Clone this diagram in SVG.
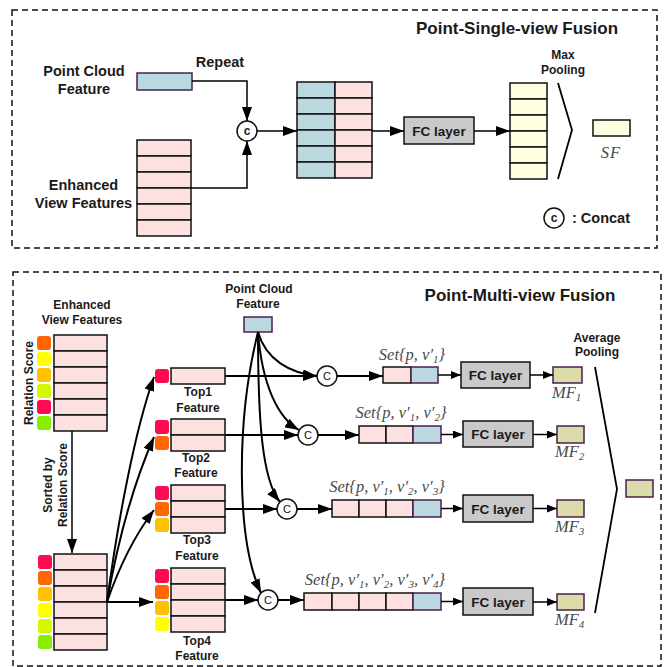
<svg xmlns="http://www.w3.org/2000/svg" width="664" height="667" viewBox="0 0 664 667">
<defs>
<style>
.lbl{font-family:"Liberation Sans",Arial,sans-serif;font-weight:bold;fill:#1a1a1a}
.t14{font-size:14.5px}
.t12{font-size:12px}
.ttl{font-size:17px}
.math{font-family:"Liberation Serif","Times New Roman",serif;font-style:italic;fill:#4a4a4a;font-size:16.5px}
.reg{font-family:"Liberation Sans",Arial,sans-serif;font-size:11px;fill:#111}
.pink{fill:#fde1e1;stroke:#111;stroke-width:1.5}
.blue{fill:#b9d8df;stroke:#111;stroke-width:1.5}
.blueP{fill:#b9d8df;stroke:#4a1f4f;stroke-width:1.5}
.yel{fill:#fefee0;stroke:#111;stroke-width:1.5}
.kh{fill:#dcdcaa;stroke:#4a1f4f;stroke-width:1.5}
.fc{fill:#c9c9c9;stroke:#111;stroke-width:1.5}
.frame{fill:none;stroke:#111;stroke-width:1.5;stroke-dasharray:6 4}
.circ{fill:#fff;stroke:#111;stroke-width:1.5}
.w{fill:none;stroke:#000;stroke-width:1.5}
.w2{fill:none;stroke:#000;stroke-width:2}
.pool{fill:none;stroke:#000;stroke-width:1.8}
.sq{stroke:none}
</style>
<marker id="ah" viewBox="0 0 14 10" refX="14" refY="5" markerWidth="14" markerHeight="10" orient="auto" markerUnits="userSpaceOnUse"><path d="M0,0 L14,5 L0,10 z" fill="#000"/></marker>
<marker id="ahs" viewBox="0 0 10 8" refX="10" refY="4" markerWidth="10" markerHeight="8" orient="auto" markerUnits="userSpaceOnUse"><path d="M0,0 L10,4 L0,8 z" fill="#000"/></marker>
</defs>
<rect width="664" height="667" fill="#fff"/>

<!-- frames -->
<rect class="frame" x="12" y="10" width="645" height="238"/>
<rect class="frame" x="13" y="272" width="648" height="394"/>
<text class="lbl ttl" x="517" y="34" text-anchor="middle">Point-Single-view Fusion</text>
<text class="lbl ttl" x="520" y="301" text-anchor="middle">Point-Multi-view Fusion</text>

<!-- ============ TOP PANEL ============ -->
<g id="top-pcf">
<text class="lbl t14" x="84" y="76" text-anchor="middle">Point Cloud</text>
<text class="lbl t14" x="84" y="94" text-anchor="middle">Feature</text>
<rect class="blueP" x="137" y="73" width="55" height="17"/>
</g>
<text class="lbl t14" x="220" y="67" text-anchor="middle">Repeat</text>

<g id="top-evf">
<text class="lbl t14" x="83.5" y="190" text-anchor="middle">Enhanced</text>
<text class="lbl t14" x="83.5" y="208" text-anchor="middle">View Features</text>
<rect class="pink" x="137" y="140" width="54" height="16"/>
<rect class="pink" x="137" y="156" width="54" height="16"/>
<rect class="pink" x="137" y="172" width="54" height="16"/>
<rect class="pink" x="137" y="188" width="54" height="16"/>
<rect class="pink" x="137" y="204" width="54" height="16"/>
<rect class="pink" x="137" y="220" width="54" height="16"/>
</g>

<g id="top-concat">
<circle class="circ" cx="247" cy="131" r="10"/>
<text class="lbl" x="247" y="135" font-size="12" text-anchor="middle">c</text>
</g>

<g id="top-stack">
<rect class="blue" x="297" y="82" width="38" height="16"/>
<rect class="blue" x="297" y="98" width="38" height="16"/>
<rect class="blue" x="297" y="114" width="38" height="16"/>
<rect class="blue" x="297" y="130" width="38" height="16"/>
<rect class="blue" x="297" y="146" width="38" height="16"/>
<rect class="blue" x="297" y="162" width="38" height="16"/>
<rect class="pink" x="335" y="82" width="37" height="16"/>
<rect class="pink" x="335" y="98" width="37" height="16"/>
<rect class="pink" x="335" y="114" width="37" height="16"/>
<rect class="pink" x="335" y="130" width="37" height="16"/>
<rect class="pink" x="335" y="146" width="37" height="16"/>
<rect class="pink" x="335" y="162" width="37" height="16"/>
</g>

<g id="top-fc">
<rect class="fc" x="404" y="117" width="70" height="27"/>
<text class="lbl" font-size="13.5" x="439" y="135.5" text-anchor="middle">FC layer</text>
</g>

<g id="top-yellow">
<rect class="yel" x="510" y="83" width="37" height="16"/>
<rect class="yel" x="510" y="99" width="37" height="16"/>
<rect class="yel" x="510" y="115" width="37" height="16"/>
<rect class="yel" x="510" y="131" width="37" height="16"/>
<rect class="yel" x="510" y="147" width="37" height="16"/>
<rect class="yel" x="510" y="163" width="37" height="16"/>
</g>

<g id="top-maxpool">
<text class="lbl t12" x="563" y="59" text-anchor="middle">Max</text>
<text class="lbl t12" x="563" y="74" text-anchor="middle">Pooling</text>
<path class="pool" d="M558,83 L572,130 L558,179"/>
</g>

<g id="top-sf">
<rect class="yel" x="593" y="120" width="37" height="16"/>
<text class="math" x="611" y="158" font-size="23" text-anchor="middle" letter-spacing="1">SF</text>
</g>

<g id="legend">
<circle class="circ" cx="554" cy="218" r="10"/>
<text class="lbl" x="554" y="222" font-size="12" text-anchor="middle">c</text>
<text class="lbl t14" x="572" y="223">: Concat</text>
</g>

<g id="top-connectors">
<path class="w" d="M192,81 H247 V121" marker-end="url(#ah)"/>
<path class="w" d="M191,188 H247 V141" marker-end="url(#ah)"/>
<path class="w" d="M257,131 H297" marker-end="url(#ah)"/>
<path class="w" d="M372,131 H404" marker-end="url(#ah)"/>
<path class="w" d="M474,131 H510" marker-end="url(#ah)"/>
</g>

<!-- ============ BOTTOM PANEL ============ -->
<g id="evf">
<text class="lbl t12" x="82" y="309" text-anchor="middle">Enhanced</text>
<text class="lbl t12" x="82" y="324" text-anchor="middle">View Features</text>
<text class="lbl t12" transform="translate(33,383) rotate(-90)" text-anchor="middle">Relation Score</text>
<rect class="pink" x="54" y="335" width="53" height="16"/>
<rect class="pink" x="54" y="351" width="53" height="16"/>
<rect class="pink" x="54" y="367" width="53" height="16"/>
<rect class="pink" x="54" y="383" width="53" height="16"/>
<rect class="pink" x="54" y="399" width="53" height="16"/>
<rect class="pink" x="54" y="415" width="53" height="16"/>
<rect class="sq" x="37" y="336" width="14" height="14" rx="3" fill="#ff6600"/>
<rect class="sq" x="37" y="352" width="14" height="14" rx="3" fill="#ffff00"/>
<rect class="sq" x="37" y="368" width="14" height="14" rx="3" fill="#ffc200"/>
<rect class="sq" x="37" y="384" width="14" height="14" rx="3" fill="#d4f800"/>
<rect class="sq" x="37" y="400" width="14" height="14" rx="3" fill="#ff0a50"/>
<rect class="sq" x="37" y="416" width="14" height="14" rx="3" fill="#88ee00"/>
</g>

<text class="lbl t12" transform="translate(52,485) rotate(-90)" text-anchor="middle">Sorted by</text>
<text class="lbl t12" transform="translate(67,485) rotate(-90)" text-anchor="middle">Relation Score</text>

<g id="sorted">
<rect class="pink" x="54" y="554" width="53" height="16"/>
<rect class="pink" x="54" y="570" width="53" height="16"/>
<rect class="pink" x="54" y="586" width="53" height="16"/>
<rect class="pink" x="54" y="602" width="53" height="16"/>
<rect class="pink" x="54" y="618" width="53" height="16"/>
<rect class="pink" x="54" y="634" width="53" height="16"/>
<rect class="sq" x="38" y="555" width="14" height="14" rx="3" fill="#ff0a50"/>
<rect class="sq" x="38" y="571" width="14" height="14" rx="3" fill="#ff6600"/>
<rect class="sq" x="38" y="587" width="14" height="14" rx="3" fill="#ffc200"/>
<rect class="sq" x="38" y="603" width="14" height="14" rx="3" fill="#ffff00"/>
<rect class="sq" x="38" y="619" width="14" height="14" rx="3" fill="#d4f800"/>
<rect class="sq" x="38" y="635" width="14" height="14" rx="3" fill="#88ee00"/>
</g>

<g id="top1">
<rect class="sq" x="155" y="369" width="14" height="14" rx="3" fill="#ff0a50"/>
<rect class="pink" x="171" y="368" width="54" height="16"/>
<text class="lbl t12" x="198" y="396" text-anchor="middle">Top1</text>
<text class="lbl t12" x="198" y="412" text-anchor="middle">Feature</text>
</g>
<g id="top2">
<rect class="sq" x="155" y="420" width="14" height="14" rx="3" fill="#ff0a50"/>
<rect class="sq" x="155" y="436" width="14" height="14" rx="3" fill="#ff6600"/>
<rect class="pink" x="171" y="419" width="54" height="16"/>
<rect class="pink" x="171" y="435" width="54" height="16"/>
<text class="lbl t12" x="196" y="462" text-anchor="middle">Top2</text>
<text class="lbl t12" x="196" y="477" text-anchor="middle">Feature</text>
</g>
<g id="top3">
<rect class="sq" x="155" y="486" width="14" height="14" rx="3" fill="#ff0a50"/>
<rect class="sq" x="155" y="502" width="14" height="14" rx="3" fill="#ff6600"/>
<rect class="sq" x="155" y="518" width="14" height="14" rx="3" fill="#ffc200"/>
<rect class="pink" x="171" y="485" width="54" height="16"/>
<rect class="pink" x="171" y="501" width="54" height="16"/>
<rect class="pink" x="171" y="517" width="54" height="16"/>
<text class="lbl t12" x="197" y="544" text-anchor="middle">Top3</text>
<text class="lbl t12" x="197" y="560" text-anchor="middle">Feature</text>
</g>
<g id="top4">
<rect class="sq" x="155" y="569" width="14" height="14" rx="3" fill="#ff0a50"/>
<rect class="sq" x="155" y="585" width="14" height="14" rx="3" fill="#ff6600"/>
<rect class="sq" x="155" y="601" width="14" height="14" rx="3" fill="#ffc200"/>
<rect class="sq" x="155" y="617" width="14" height="14" rx="3" fill="#ffff00"/>
<rect class="pink" x="171" y="568" width="54" height="16"/>
<rect class="pink" x="171" y="584" width="54" height="16"/>
<rect class="pink" x="171" y="600" width="54" height="16"/>
<rect class="pink" x="171" y="616" width="54" height="16"/>
<text class="lbl t12" x="197" y="645" text-anchor="middle">Top4</text>
<text class="lbl t12" x="197" y="660" text-anchor="middle">Feature</text>
</g>

<g id="pcf">
<text class="lbl t12" x="259" y="293" text-anchor="middle">Point Cloud</text>
<text class="lbl t12" x="258" y="308" text-anchor="middle">Feature</text>
<rect class="blueP" x="244" y="317" width="28" height="15"/>
</g>

<g id="concats">
<circle class="circ" cx="327" cy="376" r="10"/>
<text class="reg" x="327" y="380" text-anchor="middle">C</text>
<circle class="circ" cx="308" cy="435" r="10"/>
<text class="reg" x="308" y="439" text-anchor="middle">C</text>
<circle class="circ" cx="287" cy="509" r="10"/>
<text class="reg" x="287" y="513" text-anchor="middle">C</text>
<circle class="circ" cx="268" cy="600" r="10"/>
<text class="reg" x="268" y="604" text-anchor="middle">C</text>
</g>

<g id="set1">
<text class="math" x="412" y="360" text-anchor="middle">Set{p, v′<tspan font-size="11" dy="3">1</tspan><tspan dy="-3">}</tspan></text>
<rect class="pink" x="383" y="367" width="28" height="16"/>
<rect class="blueP" x="411" y="367" width="27" height="16"/>
</g>
<g id="set2">
<text class="math" x="401" y="418" text-anchor="middle">Set{p, v′<tspan font-size="11" dy="3">1</tspan><tspan dy="-3">, v′</tspan><tspan font-size="11" dy="3">2</tspan><tspan dy="-3">}</tspan></text>
<rect class="pink" x="359" y="426" width="27" height="17"/>
<rect class="pink" x="386" y="426" width="27" height="17"/>
<rect class="blueP" x="413" y="426" width="28" height="17"/>
</g>
<g id="set3">
<text class="math" x="387" y="492" text-anchor="middle">Set{p, v′<tspan font-size="11" dy="3">1</tspan><tspan dy="-3">, v′</tspan><tspan font-size="11" dy="3">2</tspan><tspan dy="-3">, v′</tspan><tspan font-size="11" dy="3">3</tspan><tspan dy="-3">}</tspan></text>
<rect class="pink" x="332" y="500" width="27" height="17"/>
<rect class="pink" x="359" y="500" width="27" height="17"/>
<rect class="pink" x="386" y="500" width="27" height="17"/>
<rect class="blueP" x="413" y="500" width="28" height="17"/>
</g>
<g id="set4">
<text class="math" x="375" y="585" text-anchor="middle">Set{p, v′<tspan font-size="11" dy="3">1</tspan><tspan dy="-3">, v′</tspan><tspan font-size="11" dy="3">2</tspan><tspan dy="-3">, v′</tspan><tspan font-size="11" dy="3">3</tspan><tspan dy="-3">, v′</tspan><tspan font-size="11" dy="3">4</tspan><tspan dy="-3">}</tspan></text>
<rect class="pink" x="304" y="593" width="28" height="17"/>
<rect class="pink" x="332" y="593" width="27" height="17"/>
<rect class="pink" x="359" y="593" width="27" height="17"/>
<rect class="pink" x="386" y="593" width="27" height="17"/>
<rect class="blueP" x="413" y="593" width="28" height="17"/>
</g>

<g id="fc1"><rect class="fc" x="461" y="362" width="69" height="26"/><text class="lbl" font-size="13.5" x="495.5" y="380" text-anchor="middle">FC layer</text></g>
<g id="fc2"><rect class="fc" x="463" y="421" width="70" height="26"/><text class="lbl" font-size="13.5" x="498" y="439" text-anchor="middle">FC layer</text></g>
<g id="fc3"><rect class="fc" x="463" y="495" width="70" height="27"/><text class="lbl" font-size="13.5" x="498" y="513.5" text-anchor="middle">FC layer</text></g>
<g id="fc4"><rect class="fc" x="463" y="588" width="70" height="27"/><text class="lbl" font-size="13.5" x="498" y="606.5" text-anchor="middle">FC layer</text></g>

<g id="mf1"><rect class="kh" x="553" y="367" width="29" height="16"/><text class="math" x="552" y="398" font-size="17.5">MF<tspan font-size="11" dy="3">1</tspan></text></g>
<g id="mf2"><rect class="kh" x="557" y="426" width="27" height="17"/><text class="math" x="555" y="457" font-size="17.5">MF<tspan font-size="11" dy="3">2</tspan></text></g>
<g id="mf3"><rect class="kh" x="557" y="500" width="27" height="17"/><text class="math" x="555" y="532" font-size="17.5">MF<tspan font-size="11" dy="3">3</tspan></text></g>
<g id="mf4"><rect class="kh" x="557" y="594" width="27" height="16"/><text class="math" x="555" y="625" font-size="17.5">MF<tspan font-size="11" dy="3">4</tspan></text></g>

<g id="avgpool">
<text class="lbl t12" x="597" y="342" text-anchor="middle">Average</text>
<text class="lbl t12" x="597" y="356" text-anchor="middle">Pooling</text>
<path class="pool" d="M595,367 L617,489 L595,613"/>
</g>
<g id="out"><rect class="kh" x="626" y="480" width="27" height="17"/></g>

<g id="connectors">
<path class="w" d="M72,431 V553" marker-end="url(#ah)"/>
<path class="w2" d="M107,602 C118,520 135,430 154,377" marker-end="url(#ah)"/>
<path class="w2" d="M107,602 C118,540 135,480 154,437" marker-end="url(#ah)"/>
<path class="w2" d="M107,602 C118,570 135,535 154,510" marker-end="url(#ah)"/>
<path class="w2" d="M107,602 H153" marker-end="url(#ah)"/>
<path class="w2" d="M225,376 H317" marker-end="url(#ah)"/>
<path class="w2" d="M225,435 H298" marker-end="url(#ah)"/>
<path class="w2" d="M225,509 H277" marker-end="url(#ah)"/>
<path class="w2" d="M225,600 H258" marker-end="url(#ah)"/>
<path class="w2" d="M258,332 C266,360 290,373 317,376" marker-end="url(#ah)"/>
<path class="w2" d="M258,332 C262,385 278,418 299,430" marker-end="url(#ah)"/>
<path class="w2" d="M258,332 C258,420 262,480 280,502" marker-end="url(#ah)"/>
<path class="w2" d="M258,332 C236,420 236,540 261,593" marker-end="url(#ah)"/>
<path class="w2" d="M337,376 H383" marker-end="url(#ah)"/>
<path class="w2" d="M318,435 H359" marker-end="url(#ah)"/>
<path class="w2" d="M297,509 H332" marker-end="url(#ah)"/>
<path class="w2" d="M278,600 H304" marker-end="url(#ah)"/>
<path class="w" d="M438,375 H461" marker-end="url(#ahs)"/>
<path class="w" d="M441,434.5 H463" marker-end="url(#ahs)"/>
<path class="w" d="M441,508.5 H463" marker-end="url(#ahs)"/>
<path class="w" d="M441,601.5 H463" marker-end="url(#ahs)"/>
<path class="w" d="M530,375 H553" marker-end="url(#ahs)"/>
<path class="w" d="M533,434.5 H557" marker-end="url(#ahs)"/>
<path class="w" d="M533,508.5 H557" marker-end="url(#ahs)"/>
<path class="w" d="M533,602 H557" marker-end="url(#ahs)"/>
</g>
</svg>
